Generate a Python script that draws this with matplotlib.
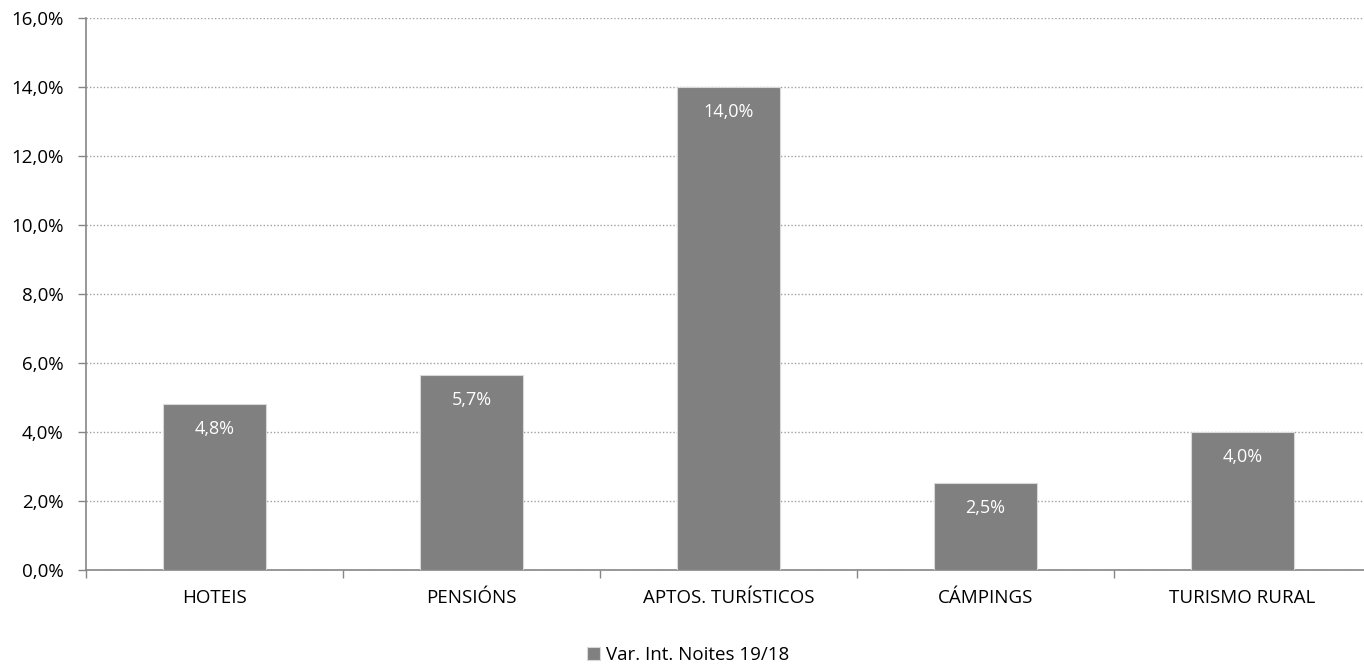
import numpy as np
import matplotlib.pyplot as plt
from matplotlib.ticker import FuncFormatter

categorias = ['HOTEIS', 'PENSIÓNS', 'APTOS. TURÍSTICOS', 'CÁMPINGS', 'TURISMO RURAL']
variacion = [4.8, 5.65, 14.0, 2.52, 4.0]
etiquetas = ['4,8%', '5,7%', '14,0%', '2,5%', '4,0%']

plt.rcParams['font.family'] = ['Open Sans', 'DejaVu Sans']

fig = plt.figure(figsize=(13.64, 6.67), dpi=100)
ax = fig.add_axes([86/1364, (667-570)/667, 1285/1364, 552/667])

x = np.arange(len(categorias))
barras = ax.bar(x, variacion, width=0.4, color='#808080', edgecolor='#d9d9d9', linewidth=0.8,
                label='Var. Int. Noites 19/18', zorder=3)

for b, t in zip(barras, etiquetas):
    ax.annotate(t, (b.get_x() + b.get_width()/2, b.get_height()), xytext=(0, -18),
                textcoords='offset points', ha='center', va='center', color='white', fontsize=13)

ax.set_xlim(-0.5, len(categorias) - 0.5)
ax.set_ylim(0, 16)
ax.set_yticks(np.arange(0, 17, 2))
ax.yaxis.set_major_formatter(FuncFormatter(lambda v, p: f'{v:.1f}%'.replace('.', ',')))
ax.grid(axis='y', linestyle=(0, (1, 1.5)), color='#a0a0a0', linewidth=1, zorder=0)

ax.set_xticks(x)
ax.set_xticklabels(categorias)
ax.set_xticks(np.arange(-0.5, len(categorias), 1), minor=True)
ax.tick_params(axis='x', which='major', length=0, pad=14, labelsize=13.5)
ax.tick_params(axis='x', which='minor', length=6, color='#868686', width=1)
ax.tick_params(axis='y', length=6, color='#868686', width=1, labelsize=13.5, pad=10)

for s in ['top', 'right']:
    ax.spines[s].set_visible(False)
for s in ['left', 'bottom']:
    ax.spines[s].set_color('#868686')
    ax.spines[s].set_linewidth(1.2)

fig.legend(loc='center', bbox_to_anchor=(688/1364, 1 - 655/667), frameon=False, fontsize=13.5,
           handlelength=0.7, handleheight=0.7, handletextpad=0.3)

fig.savefig('out.png', dpi=100)
